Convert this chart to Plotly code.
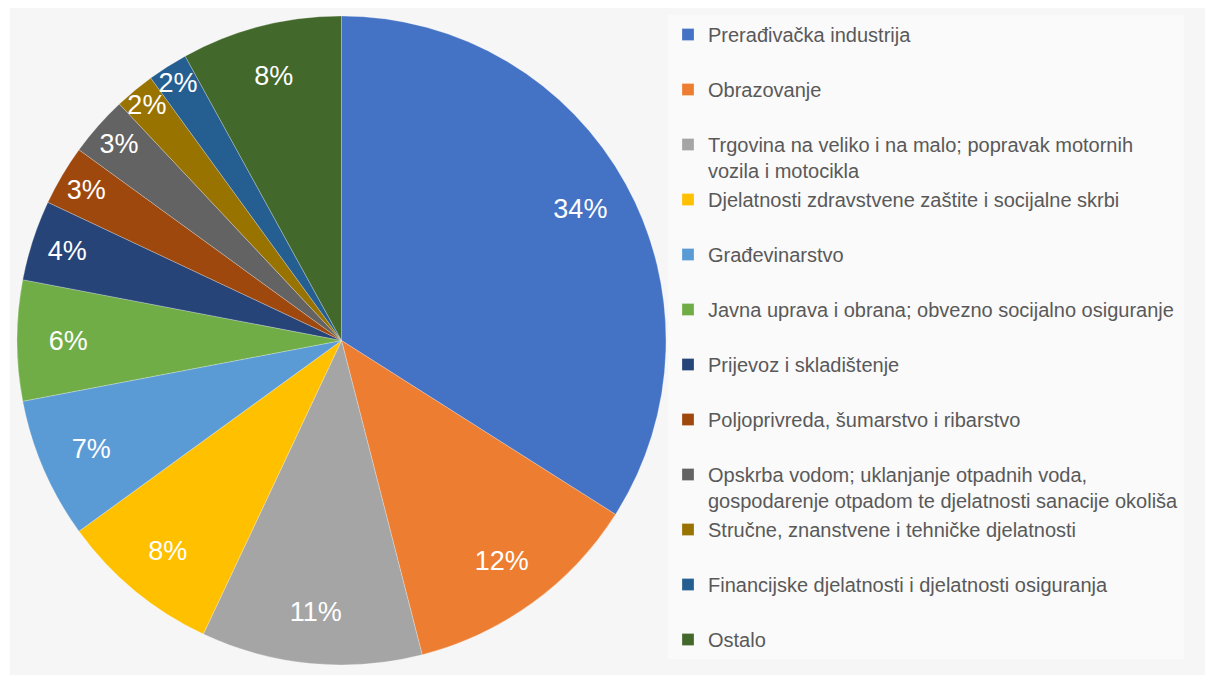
import plotly.graph_objects as go

# udjeli po djelatnostima (%)
labels = [
    "Prerađivačka industrija",
    "Obrazovanje",
    "Trgovina na veliko i na malo; popravak motornih<br>vozila i motocikla",
    "Djelatnosti zdravstvene zaštite i socijalne skrbi",
    "Građevinarstvo",
    "Javna uprava i obrana; obvezno socijalno osiguranje",
    "Prijevoz i skladištenje",
    "Poljoprivreda, šumarstvo i ribarstvo",
    "Opskrba vodom; uklanjanje otpadnih voda,<br>gospodarenje otpadom te djelatnosti sanacije okoliša",
    "Stručne, znanstvene i tehničke djelatnosti",
    "Financijske djelatnosti i djelatnosti osiguranja",
    "Ostalo",
]
values = [34, 12, 11, 8, 7, 6, 4, 3, 3, 2, 2, 8]
colors = [
    "#4472C4", "#ED7D31", "#A5A5A5", "#FFC000", "#5B9BD5", "#70AD47",
    "#264478", "#9E480E", "#636363", "#997300", "#255E91", "#43682B",
]

# single-line entries get an empty second line so every legend row is the same height
# (not the last one, so the legend still fits in the figure)
legend_labels = [
    l if ("<br>" in l or i == len(labels) - 1) else l + "<br> "
    for i, l in enumerate(labels)
]
pct_text = [f"{v}%" for v in values]

# page has an 8px body margin, so the figure sits at (8, 8)
OFF = 8
W, H = 1213 - OFF, 675 - OFF


def px(x):
    return (x - OFF) / W


def py(y):
    return max(0.0, min(1.0, 1 - (y - OFF) / H))


dom_x = [px(17), px(666)]
dom_y = [py(665), py(16)]

fig = go.Figure()

fig.add_trace(go.Pie(
    labels=legend_labels,
    values=values,
    sort=False,
    direction="clockwise",
    rotation=0,
    marker=dict(colors=colors, line=dict(color="rgba(255,255,255,0.5)", width=0.5)),
    textinfo="none",
    hoverinfo="label+percent",
    domain=dict(x=dom_x, y=dom_y),
))

# transparent ring on top just to carry the percentage labels near the rim
fig.add_trace(go.Pie(
    labels=legend_labels,
    values=values,
    sort=False,
    direction="clockwise",
    rotation=0,
    hole=0.68,
    marker=dict(colors=["rgba(0,0,0,0)"] * len(values), line=dict(width=0)),
    text=pct_text,
    textinfo="text",
    textposition="inside",
    insidetextorientation="horizontal",
    textfont=dict(family="Liberation Sans, Arial, sans-serif", size=27, color="white"),
    showlegend=False,
    hoverinfo="skip",
    domain=dict(x=dom_x, y=dom_y),
))

fig.update_layout(
    width=W,
    height=H,
    paper_bgcolor="white",
    plot_bgcolor="white",
    margin=dict(l=0, r=0, t=0, b=0),
    font=dict(family="Liberation Sans, Arial, sans-serif", color="#595959"),
    uniformtext=dict(minsize=27, mode="show"),
    legend=dict(
        x=px(668),
        y=py(15),
        xanchor="left",
        yanchor="top",
        valign="top",
        maxheight=720,
        font=dict(size=20, color="#595959"),
        bgcolor="rgba(255,255,255,0.45)",
        itemclick=False,
    ),
    shapes=[
        dict(
            type="rect", xref="paper", yref="paper",
            x0=px(10), x1=1, y0=0, y1=py(7),
            fillcolor="#f6f6f6", line=dict(width=0), layer="below",
        )
    ],
)

fig.write_html("out.html")
